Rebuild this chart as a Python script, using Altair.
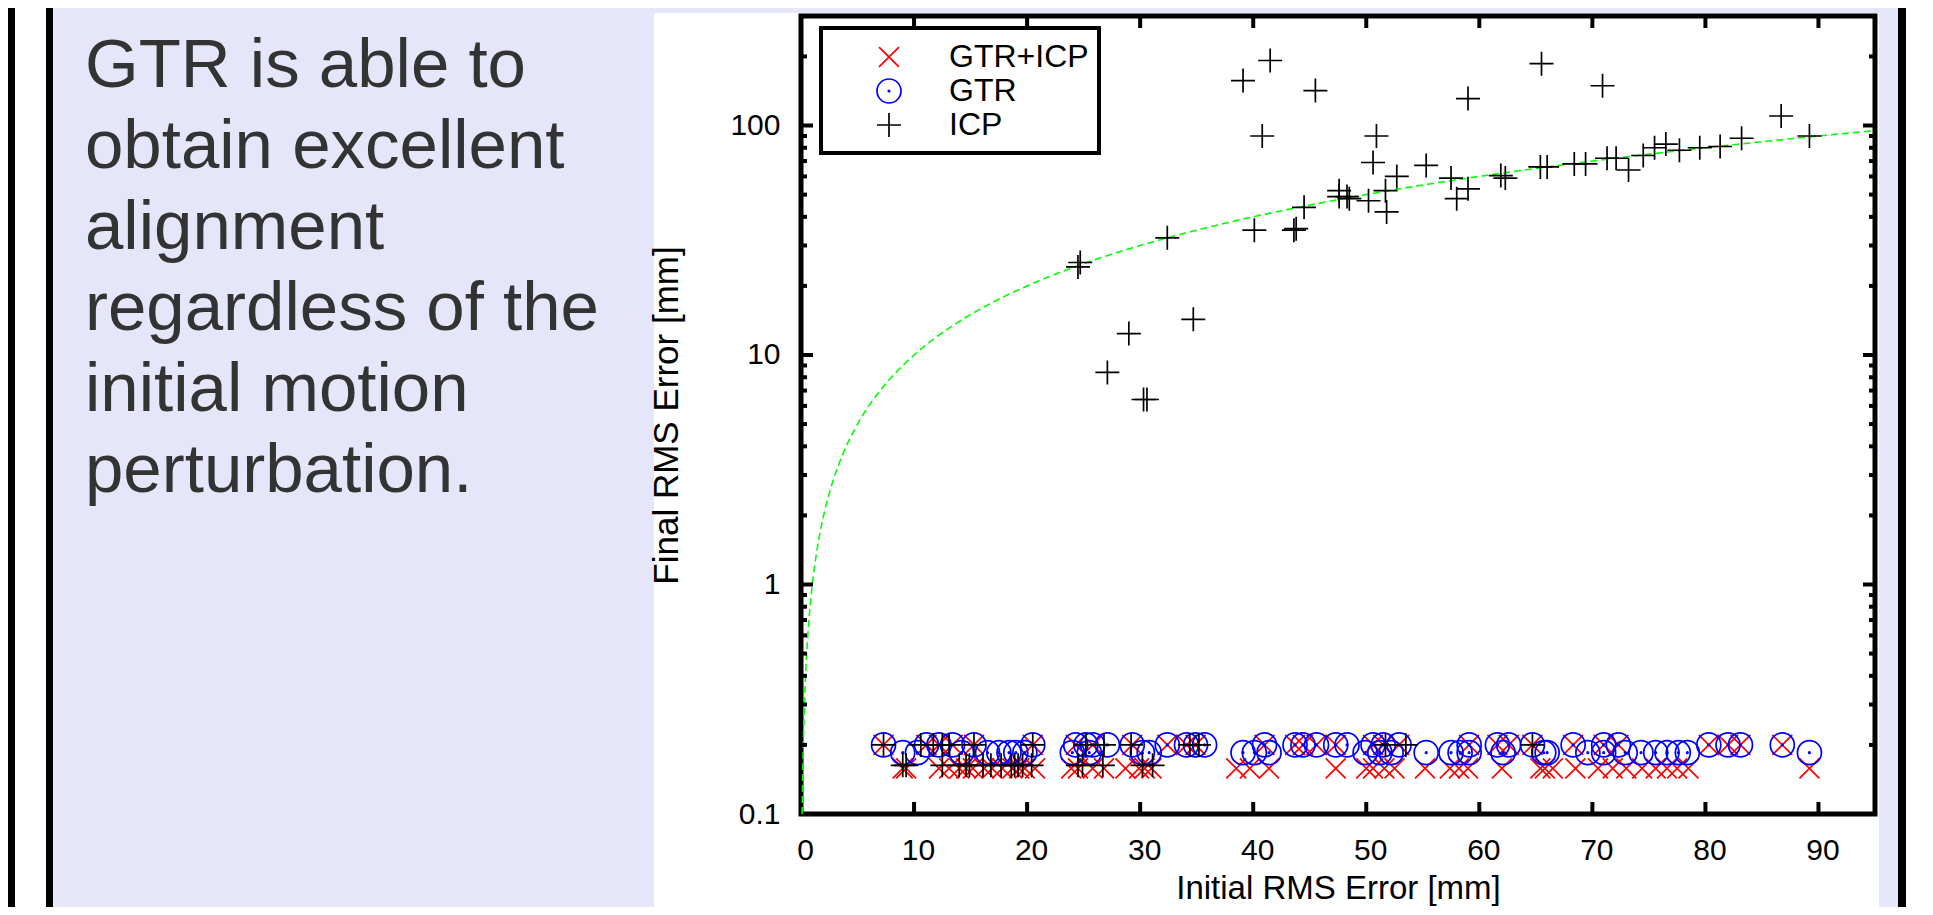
import altair as alt
import pandas as pd

# ---------------- data ----------------
series_names = ["GTR+ICP", "GTR", "ICP"]

icp_x = [7.3, 10.6, 11.7, 12.5, 13.1, 15.3, 20.5, 25.2, 26.8, 29.2, 34.4, 35.2, 51.7, 53.5, 64.7,
         9.0, 9.3, 12.5, 14.0, 14.6, 14.9, 16.1, 16.8, 17.7, 18.6, 18.9, 19.2, 19.6, 20.4,
         24.5, 24.9, 26.7, 30.2, 31.1,
         39.1, 41.5, 45.5, 40.8, 65.5, 70.9, 59.0, 50.9, 50.6, 55.3, 52.7, 51.7, 51.8, 57.5,
         59.0, 58.0, 61.9, 62.3, 65.4, 66.0, 68.4, 69.4, 71.3, 72.1, 73.2, 74.5, 75.5, 76.5,
         77.7, 44.5, 40.1, 43.6, 43.8, 47.6, 48.3, 48.5, 50.2, 47.6, 32.4, 24.5, 24.7, 34.7,
         29.0, 27.1, 30.3, 30.6, 79.5, 81.3, 83.2, 86.7, 89.2]
icp_y = [0.2, 0.2, 0.2, 0.2, 0.2, 0.2, 0.2, 0.2, 0.2, 0.2, 0.2, 0.2, 0.2, 0.2, 0.2,
         0.163, 0.163, 0.163, 0.163, 0.163, 0.163, 0.163, 0.163, 0.163, 0.163, 0.163, 0.163,
         0.163, 0.163, 0.163, 0.163, 0.163, 0.163, 0.163,
         157, 192, 142, 90, 186, 149, 131, 90, 69, 67, 60, 52, 42, 59,
         53, 48, 60.5, 59, 66, 66, 68, 68, 72, 72, 64, 74, 80, 83,
         78, 44, 35, 35, 35.5, 49, 49, 48, 47, 52, 32.4, 24.2, 25.3, 14.3,
         12.4, 8.4, 6.4, 6.4, 80, 81, 88, 110, 90]

gtr_x = [7.3, 11.1, 12.2, 13.4, 15.3, 20.5, 24.3, 25.2, 25.8, 27.1, 29.3, 32.4, 34.1, 34.9,
         35.7, 41.0, 43.7, 44.4, 45.6, 47.3, 48.3, 50.6, 51.5, 52.9, 59.1, 61.6, 62.6, 64.7,
         68.3, 71.0, 72.3, 80.3, 82.0, 83.1, 86.8,
         9.0, 10.3, 14.2, 16.5, 17.5, 18.4, 19.0, 19.8, 24.0, 25.5, 30.2, 30.8, 39.1, 40.1,
         41.4, 49.9, 51.2, 52.2, 55.3, 57.5, 58.3, 59.1, 62.1, 65.7, 66.0, 69.6, 71.0, 72.9,
         74.3, 75.6, 76.6, 77.6, 78.4, 89.2]
gtr_y = [0.2] * 35 + [0.185] * 34

gtricp_x = [7.3, 11.1, 12.2, 13.4, 15.3, 20.5, 24.3, 25.8, 29.3, 32.4, 34.1, 34.9, 41.0, 43.7,
            44.4, 45.6, 47.3, 50.6, 51.5, 52.9, 59.1, 61.6, 62.6, 64.7, 68.3, 71.0, 72.3, 80.3,
            82.0, 83.1, 86.8,
            9.0, 9.3, 12.2, 13.1, 14.0, 14.6, 15.2, 16.2, 16.9, 17.8, 18.7, 19.3, 19.8, 20.7,
            23.9, 24.5, 25.8, 26.8, 28.7, 29.9, 30.4, 31.0, 38.5, 39.7, 41.4, 47.3, 50.0, 50.6,
            51.6, 52.5, 55.2, 57.4, 58.2, 59.0, 62.0, 65.4, 65.8, 66.5, 68.5, 70.5, 71.8, 73.0,
            74.4, 75.6, 76.6, 77.5, 78.5, 89.2]
gtricp_y = [0.2] * 31 + [0.158] * 48

x_domain = [0, 95]
y_domain = [0.1, 300]
x_tick_values = [0, 10, 20, 30, 40, 50, 60, 70, 80, 90]
y_major_values = [0.1, 1, 10, 100]
y_minor_values = [0.2, 0.3, 0.4, 0.5, 0.6, 0.7, 0.8, 0.9,
                  2, 3, 4, 5, 6, 7, 8, 9,
                  20, 30, 40, 50, 60, 70, 80, 90, 200]

slide_lines = ["GTR is able to", "obtain excellent", "alignment",
               "regardless of the", "initial motion", "perturbation."]

# ---------------- build tables ----------------
rows = []
for xs, ys, name in [(gtricp_x, gtricp_y, "GTR+ICP"), (gtr_x, gtr_y, "GTR"), (icp_x, icp_y, "ICP")]:
    for a, b in zip(xs, ys):
        rows.append({"x": a, "y": b, "series": name})
points_df = pd.DataFrame(rows)

X_PATH = "M-0.83,-0.83L0.83,0.83M-0.83,0.83L0.83,-0.83"
CIRC_PATH = ("M-1,0A1,1,0,1,0,1,0A1,1,0,1,0,-1,0"
             "M-0.06,0A0.06,0.06,0,1,0,0.06,0A0.06,0.06,0,1,0,-0.06,0")
PLUS_PATH = "M-1,0L1,0M0,-1L0,1"

FONT = "Liberation Sans"

xscale = alt.Scale(domain=x_domain, nice=False, zero=False)
yscale = alt.Scale(type="log", domain=y_domain, nice=False)

one = pd.DataFrame({"k": [0]})


def box(x0, x1, y0, y1, color, **kw):
    return alt.Chart(one).mark_rect(color=color, **kw).encode(
        x=alt.value(x0), x2=alt.value(x1), y=alt.value(y0), y2=alt.value(y1))


# slide decoration (page px minus plot origin 801,16)
bg_layers = [
    box(-793, -786, -8, 899, "black"),
    box(-786, -755, -8, 899, "white"),
    box(-755, -748, -8, 899, "black"),
    box(-147, 1078, -3, 899, "white"),
    box(1097, 1105, -8, 899, "black"),
    box(1105, 1130, -8, 899, "white"),
]

slide_text = alt.Chart(one).mark_text(
    align="left", baseline="alphabetic", font=FONT, fontSize=69,
    color="#333333", lineHeight=81
).encode(x=alt.value(-716), y=alt.value(71), text=alt.value(slide_lines))

frame_df = pd.DataFrame({"x0": [x_domain[0]], "x1": [x_domain[1]],
                         "y0": [y_domain[0]], "y1": [y_domain[1]]})
frame = alt.Chart(frame_df).mark_rect(fillOpacity=0, stroke="black", strokeWidth=5).encode(
    x=alt.X("x0:Q", scale=xscale), x2="x1:Q",
    y=alt.Y("y0:Q", scale=yscale), y2="y1:Q")

legend_box = alt.Chart(one).mark_rect(fill="white", stroke="black", strokeWidth=4).encode(
    x=alt.value(20), x2=alt.value(298), y=alt.value(12), y2=alt.value(137))

ident = alt.Chart(alt.sequence(0.1, 95.01, 0.1, as_="x")).transform_calculate(
    y="datum.x"
).mark_line(color="#00ff00", strokeWidth=1.6, strokeDash=[7, 4], clip=True).encode(
    x=alt.X("x:Q", scale=xscale), y=alt.Y("y:Q", scale=yscale))

leg = alt.Legend(
    title=None, orient="none", legendX=20, legendY=12, padding=13,
    labelFont=FONT, labelFontSize=32, labelColor="black",
    symbolSize=576, symbolStrokeWidth=1.7, symbolOffset=39, labelOffset=44,
    rowPadding=2,
)

xaxis = alt.Axis(values=x_tick_values, format="d", ticks=False, domain=False, grid=False,
                 labelFont=FONT, labelFontSize=30, labelColor="black", labelPadding=21,
                 labelOffset=4, labelFlush=False,
                 title="Initial RMS Error [mm]", titleFont=FONT, titleFontSize=33,
                 titleFontWeight="normal", titleColor="black", titleBaseline="alphabetic",
                 titleY=84, zindex=1)
yaxis = alt.Axis(values=y_major_values, format="~g", ticks=False, domain=False, grid=False,
                 labelFont=FONT, labelFontSize=30, labelColor="black", labelPadding=21,
                 labelFlush=False,
                 title="Final RMS Error [mm]", titleFont=FONT, titleFontSize=35,
                 titleFontWeight="normal", titleColor="black", titleAngle=270,
                 titleBaseline="top", titleAlign="center", titleX=-152, titleY=399, zindex=1)

points = alt.Chart(points_df).mark_point(filled=False, size=576, strokeWidth=1.7, opacity=1).encode(
    x=alt.X("x:Q", scale=xscale, axis=xaxis),
    y=alt.Y("y:Q", scale=yscale, axis=yaxis),
    color=alt.Color("series:N", scale=alt.Scale(domain=series_names,
                                                range=["#ff0000", "#0000ff", "#000000"]),
                    legend=leg),
    shape=alt.Shape("series:N", scale=alt.Scale(domain=series_names,
                                                range=[X_PATH, CIRC_PATH, PLUS_PATH]),
                    legend=leg),
)


def ticks_x(vals, base, off):
    d = pd.DataFrame({"v": vals})
    return alt.Chart(d).mark_rule(color="black", strokeWidth=4, y2Offset=off).encode(
        x=alt.X("v:Q", scale=xscale), y=alt.datum(base), y2=alt.datum(base))


def ticks_y(vals, base, off):
    d = pd.DataFrame({"v": vals})
    return alt.Chart(d).mark_rule(color="black", strokeWidth=4, x2Offset=off).encode(
        y=alt.Y("v:Q", scale=yscale), x=alt.datum(base), x2=alt.datum(base))


tick_layers = [
    ticks_x(x_tick_values[1:], y_domain[0], -12),
    ticks_x(x_tick_values[1:], y_domain[1], 12),
    ticks_y(y_major_values[1:], x_domain[0], 12),
    ticks_y(y_minor_values, x_domain[0], 6),
    ticks_y(y_major_values[1:], x_domain[1], -12),
    ticks_y(y_minor_values, x_domain[1], -6),
]

chart = alt.layer(
    *bg_layers, slide_text, legend_box, frame, ident, points, *tick_layers
).properties(
    width=1074, height=798,
    autosize=alt.AutoSizeParams(type="none"),
    padding={"left": 793, "top": 8, "right": 50, "bottom": 93},
).configure(
    background="#E6E6FA",
).configure_view(strokeWidth=0)

chart.save("out.html", embed_options={"renderer": "svg", "actions": False})
